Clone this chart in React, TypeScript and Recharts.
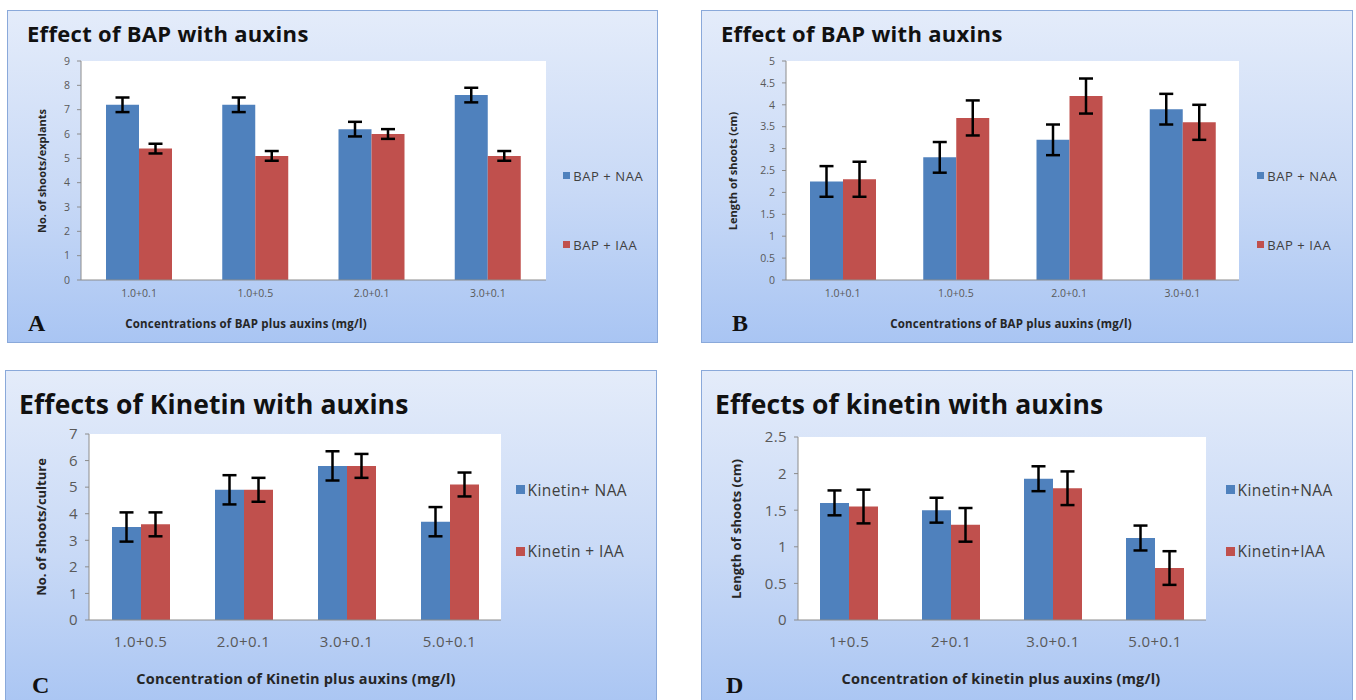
import React from "react";
import { BarChart, Bar, XAxis, YAxis, CartesianGrid, Legend, ErrorBar } from "recharts";

// panel A: BAP + auxins, shoots per explant
const bapCats = ["1.0+0.1", "1.0+0.5", "2.0+0.1", "3.0+0.1"];
const bapShootsNaa = [7.2, 7.2, 6.2, 7.6];
const bapShootsNaaErr = [0.3, 0.3, 0.3, 0.3];
const bapShootsIaa = [5.4, 5.1, 6.0, 5.1];
const bapShootsIaaErr = [0.2, 0.2, 0.2, 0.2];
const bapShootsTicks = [0, 1, 2, 3, 4, 5, 6, 7, 8, 9];

// panel B: BAP + auxins, shoot length
const bapLengthNaa = [2.25, 2.8, 3.2, 3.9];
const bapLengthNaaErr = [0.35, 0.35, 0.35, 0.35];
const bapLengthIaa = [2.3, 3.7, 4.2, 3.6];
const bapLengthIaaErr = [0.4, 0.4, 0.4, 0.4];
const bapLengthTicks = [0, 0.5, 1, 1.5, 2, 2.5, 3, 3.5, 4, 4.5, 5];

// panel C: kinetin + auxins, shoots per culture
const kinShootCats = ["1.0+0.5", "2.0+0.1", "3.0+0.1", "5.0+0.1"];
const kinShootsNaa = [3.5, 4.9, 5.8, 3.7];
const kinShootsNaaErr = [0.55, 0.55, 0.55, 0.55];
const kinShootsIaa = [3.6, 4.9, 5.8, 5.1];
const kinShootsIaaErr = [0.45, 0.45, 0.45, 0.45];
const kinShootsTicks = [0, 1, 2, 3, 4, 5, 6, 7];

// panel D: kinetin + auxins, shoot length
const kinLengthCats = ["1+0.5", "2+0.1", "3.0+0.1", "5.0+0.1"];
const kinLengthNaa = [1.6, 1.5, 1.93, 1.12];
const kinLengthNaaErr = [0.17, 0.17, 0.17, 0.17];
const kinLengthIaa = [1.55, 1.3, 1.8, 0.71];
const kinLengthIaaErr = [0.23, 0.23, 0.23, 0.23];
const kinLengthTicks = [0, 0.5, 1, 1.5, 2, 2.5];

const BLUE = "#4f81bd";
const RED = "#c0504d";
const FONT = "'Open Sans', Lato, sans-serif";

function rows(cats: string[], a: number[], aErr: number[], b: number[], bErr: number[]) {
  return cats.map((c, i) => ({ cat: c, a: a[i], aErr: aErr[i], b: b[i], bErr: bErr[i] }));
}

type PanelProps = {
  left: number;
  top: number;
  w: number;
  h: number;
  title: string;
  titleSize: number;
  titleSpacing: number;
  titleX: number;
  titleY: number;
  data: any[];
  ticks: number[];
  plot: { x: number; y: number; w: number; h: number };
  barSize: number;
  tickSize: number;
  tickSpacing: number;
  xTickMargin: number;
  names: [string, string];
  legendX: number;
  legendY: number;
  legendGap: number;
  legendSize: number;
  legendSpacing: number;
  yTitle: string;
  yTitleX: number;
  yTitleSize: number;
  xTitle: string;
  xTitleX: number;
  xTitleY: number;
  xTitleSize: number;
  xTitleSpacing: number;
  letter: string;
  letterX: number;
  letterY: number;
};

function Panel(p: PanelProps) {
  const yw = 40;
  const xh = 40;
  const margin = {
    left: p.plot.x - yw,
    right: p.w - p.plot.x - p.plot.w,
    top: p.plot.y,
    bottom: p.h - p.plot.y - p.plot.h - xh,
  };
  const max = p.ticks[p.ticks.length - 1];
  const tickStyle = { fill: "#595959", fontSize: p.tickSize, fontFamily: FONT, letterSpacing: p.tickSpacing };

  const legendContent = () => (
    <div style={{ fontFamily: FONT, fontSize: p.legendSize, letterSpacing: p.legendSpacing, color: "#404040" }}>
      {[BLUE, RED].map((col, i) => (
        <div key={i} style={{ display: "flex", alignItems: "center", height: p.legendSize + 4, marginBottom: i === 0 ? p.legendGap : 0 }}>
          <span style={{ width: p.legendSize * 0.55, height: p.legendSize * 0.55, background: col, marginRight: 3, display: "inline-block" }} />
          <span>{p.names[i]}</span>
        </div>
      ))}
    </div>
  );

  return (
    <div
      style={{
        position: "absolute",
        left: p.left,
        top: p.top,
        width: p.w,
        height: p.h,
        boxSizing: "border-box",
        border: "1.5px solid #8aa9da",
        background: "linear-gradient(to bottom, #e4ecfa 0%, #c8d9f6 55%, #a9c5f3 100%)",
        overflow: "hidden",
      }}
    >
      <div
        style={{
          position: "absolute",
          left: p.titleX,
          top: p.titleY,
          transform: "translateY(-50%)",
          fontFamily: FONT,
          fontWeight: 700,
          fontSize: p.titleSize,
          letterSpacing: p.titleSpacing,
          color: "#111",
          whiteSpace: "nowrap",
        }}
      >
        {p.title}
      </div>
      <div style={{ position: "absolute", left: 0, top: 0 }}>
        <BarChart width={p.w} height={p.h} data={p.data} margin={margin} barGap={0}>
          <CartesianGrid horizontal={false} vertical={false} fill="#ffffff" />
          <XAxis
            dataKey="cat"
            height={xh}
            tickLine={false}
            axisLine={{ stroke: "#8c8c8c" }}
            tickMargin={p.xTickMargin}
            tick={tickStyle}
          />
          <YAxis
            width={yw}
            domain={[0, max]}
            ticks={p.ticks}
            interval={0}
            tickSize={4}
            tickMargin={7}
            axisLine={{ stroke: "#8c8c8c" }}
            tickLine={{ stroke: "#8c8c8c" }}
            tick={tickStyle}
          />
          <Legend
            layout="vertical"
            align="center"
            verticalAlign="middle"
            wrapperStyle={{ left: p.legendX, top: p.legendY, width: "auto" }}
            content={legendContent}
          />
          <Bar dataKey="a" name={p.names[0]} fill={BLUE} barSize={p.barSize} isAnimationActive={false}>
            <ErrorBar dataKey="aErr" width={7} strokeWidth={2.5} stroke="#000" />
          </Bar>
          <Bar dataKey="b" name={p.names[1]} fill={RED} barSize={p.barSize} isAnimationActive={false}>
            <ErrorBar dataKey="bErr" width={7} strokeWidth={2.5} stroke="#000" />
          </Bar>
        </BarChart>
      </div>
      <div
        style={{
          position: "absolute",
          left: p.yTitleX,
          top: p.plot.y + p.plot.h / 2,
          transform: "translate(-50%, -50%) rotate(-90deg)",
          fontFamily: FONT,
          fontWeight: 700,
          fontSize: p.yTitleSize,
          color: "#262626",
          whiteSpace: "nowrap",
        }}
      >
        {p.yTitle}
      </div>
      <div
        style={{
          position: "absolute",
          left: p.xTitleX,
          top: p.xTitleY,
          transform: "translate(-50%, -50%)",
          fontFamily: FONT,
          fontWeight: 700,
          fontSize: p.xTitleSize,
          letterSpacing: p.xTitleSpacing,
          color: "#262626",
          whiteSpace: "nowrap",
        }}
      >
        {p.xTitle}
      </div>
      <div
        style={{
          position: "absolute",
          left: p.letterX,
          top: p.letterY,
          transform: "translateY(-50%)",
          fontFamily: "'Liberation Serif', 'DejaVu Serif', serif",
          fontWeight: 700,
          fontSize: 24,
          color: "#111",
        }}
      >
        {p.letter}
      </div>
    </div>
  );
}

export default function App() {
  return (
    <div style={{ position: "absolute", left: 0, top: 0, width: 1356, height: 700, background: "#fff", overflow: "hidden" }}>
      <Panel
        left={7} top={10} w={651} h={333}
        title="Effect of BAP with auxins" titleSize={22} titleSpacing={0.3} titleX={19} titleY={22}
        data={rows(bapCats, bapShootsNaa, bapShootsNaaErr, bapShootsIaa, bapShootsIaaErr)}
        ticks={bapShootsTicks}
        plot={{ x: 73, y: 50, w: 465, h: 219 }}
        barSize={33} tickSize={10.5} tickSpacing={0} xTickMargin={4}
        names={["BAP + NAA", "BAP + IAA"]}
        legendX={555} legendY={156} legendGap={52} legendSize={13} legendSpacing={0.6}
        yTitle="No. of shoots/explants" yTitleX={33} yTitleSize={11}
        xTitle="Concentrations of BAP plus auxins (mg/l)" xTitleX={238} xTitleY={312}
        xTitleSize={11.5} xTitleSpacing={0.2}
        letter="A" letterX={20} letterY={312}
      />
      <Panel
        left={701} top={10} w={652} h={333}
        title="Effect of BAP with auxins" titleSize={22} titleSpacing={0.3} titleX={19} titleY={22}
        data={rows(bapCats, bapLengthNaa, bapLengthNaaErr, bapLengthIaa, bapLengthIaaErr)}
        ticks={bapLengthTicks}
        plot={{ x: 84, y: 50, w: 453, h: 219 }}
        barSize={33} tickSize={10.5} tickSpacing={0} xTickMargin={4}
        names={["BAP + NAA", "BAP + IAA"]}
        legendX={555} legendY={156} legendGap={52} legendSize={13} legendSpacing={0.6}
        yTitle="Length of shoots (cm)" yTitleX={30} yTitleSize={11}
        xTitle="Concentrations of BAP plus auxins (mg/l)" xTitleX={309} xTitleY={312}
        xTitleSize={11.5} xTitleSpacing={0.2}
        letter="B" letterX={30} letterY={312}
      />
      <Panel
        left={5} top={370} w={652} h={340}
        title="Effects of Kinetin with auxins" titleSize={26.5} titleSpacing={0.1} titleX={13} titleY={33}
        data={rows(kinShootCats, kinShootsNaa, kinShootsNaaErr, kinShootsIaa, kinShootsIaaErr)}
        ticks={kinShootsTicks}
        plot={{ x: 83, y: 63, w: 412, h: 186 }}
        barSize={29} tickSize={15} tickSpacing={0.4} xTickMargin={10}
        names={["Kinetin+ NAA", "Kinetin + IAA"]}
        legendX={510} legendY={109} legendGap={42} legendSize={15.5} legendSpacing={0.4}
        yTitle="No. of shoots/culture" yTitleX={35} yTitleSize={13}
        xTitle="Concentration of Kinetin plus auxins (mg/l)" xTitleX={290} xTitleY={307}
        xTitleSize={14.5} xTitleSpacing={0.2}
        letter="C" letterX={26} letterY={314}
      />
      <Panel
        left={701} top={370} w={652} h={340}
        title="Effects of kinetin with auxins" titleSize={26.5} titleSpacing={0.1} titleX={13} titleY={33}
        data={rows(kinLengthCats, kinLengthNaa, kinLengthNaaErr, kinLengthIaa, kinLengthIaaErr)}
        ticks={kinLengthTicks}
        plot={{ x: 96, y: 66, w: 408, h: 183 }}
        barSize={29} tickSize={15} tickSpacing={0.4} xTickMargin={10}
        names={["Kinetin+NAA", "Kinetin+IAA"]}
        legendX={524} legendY={109} legendGap={42} legendSize={15.5} legendSpacing={0.4}
        yTitle="Length of shoots (cm)" yTitleX={34} yTitleSize={13}
        xTitle="Concentration of kinetin plus auxins (mg/l)" xTitleX={299} xTitleY={307}
        xTitleSize={14.5} xTitleSpacing={0.2}
        letter="D" letterX={24} letterY={314}
      />
    </div>
  );
}
